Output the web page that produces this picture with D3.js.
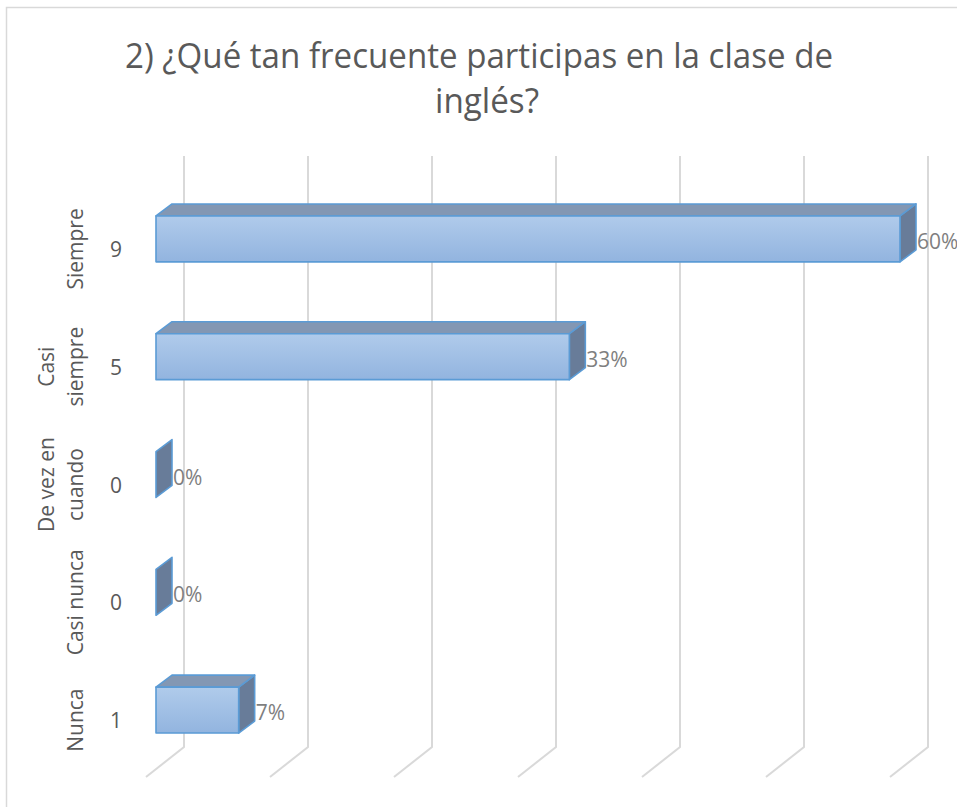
<!DOCTYPE html>
<html>
<head>
<meta charset="utf-8">
<script src="https://cdn.jsdelivr.net/npm/d3@7"></script>
<style>
  html, body { margin: 0; padding: 0; background: #ffffff; }
  svg { display: block; }
</style>
</head>
<body>
<svg id="chart" width="957" height="807"></svg>
<script>
// ---------- data ----------
const titleLines = ["2) ¿Qué tan frecuente participas en la clase de", "inglés?"];
const categories = ["Siempre", "Casi siempre", "De vez en cuando", "Casi nunca", "Nunca"];
const categoryLines = [["Siempre"], ["Casi", "siempre"], ["De vez en", "cuando"], ["Casi nunca"], ["Nunca"]];
const counts = [9, 5, 0, 0, 1];
const percentLabels = ["60%", "33%", "0%", "0%", "7%"];
const valueTicks = [0, 1.5, 3, 4.5, 6, 7.5, 9];

// ---------- layout ----------
const svg = d3.select("#chart");
const W = 957, H = 807;
const font = "'Open Sans', 'Noto Sans', sans-serif";

// chart border
svg.append("rect")
  .attr("x", 6.5).attr("y", 7.5)
  .attr("width", W + 20).attr("height", H + 20)
  .attr("fill", "#ffffff")
  .attr("stroke", "#d9d9d9").attr("stroke-width", 1.5);

// back-wall value scale
const x = d3.scaleLinear().domain([0, 9]).range([184, 928]);
// category scale (front face of bars)
const y = d3.scaleBand().domain(categories).range([180, 769]).paddingInner(0.61).paddingOuter(0.305);

const wallTop = 156, wallBottom = 747;
const floorDX = -38, floorDY = 30;
const barFrontDX = -28;      // front face offset from back wall
const depthDX = 16, depthDY = -12; // bar depth

// ---------- gridlines (wall + floor) ----------
const grid = svg.append("g").attr("fill", "none").attr("stroke", "#d9d9d9").attr("stroke-width", 2);
grid.selectAll("path").data(valueTicks).join("path")
  .attr("d", v => {
    const gx = x(v);
    return `M${gx},${wallTop} L${gx},${wallBottom} L${gx + floorDX},${wallBottom + floorDY}`;
  });

// ---------- gradient ----------
const defs = svg.append("defs");
const grad = defs.append("linearGradient").attr("id", "frontGrad")
  .attr("x1", 0).attr("y1", 0).attr("x2", 0).attr("y2", 1);
grad.append("stop").attr("offset", "0%").attr("stop-color", "#b0cbeb");
grad.append("stop").attr("offset", "100%").attr("stop-color", "#92b4df");

// ---------- bars ----------
const barStroke = "#5b9bd5";
const bars = svg.append("g");
categories.forEach((c, i) => {
  const v = counts[i];
  const top = y(c), bh = y.bandwidth(), bot = top + bh;
  const x0 = x(0) + barFrontDX, x1 = x(v) + barFrontDX;
  const g = bars.append("g").attr("stroke", barStroke).attr("stroke-width", 1.6).attr("stroke-linejoin", "round");
  // side face
  g.append("path")
    .attr("d", `M${x1},${top} L${x1 + depthDX},${top + depthDY} L${x1 + depthDX},${bot + depthDY} L${x1},${bot} Z`)
    .attr("fill", "#687c99");
  if (v > 0) {
    // top face
    g.append("path")
      .attr("d", `M${x0},${top} L${x0 + depthDX},${top + depthDY} L${x1 + depthDX},${top + depthDY} L${x1},${top} Z`)
      .attr("fill", "#8397b3");
    // front face
    g.append("rect")
      .attr("x", x0).attr("y", top)
      .attr("width", x1 - x0).attr("height", bh)
      .attr("fill", "url(#frontGrad)");
  }
  // data label
  svg.append("text")
    .attr("x", x1 + depthDX + 1)
    .attr("y", top + bh / 2 + 10)
    .attr("font-family", font).attr("font-size", 21)
    .attr("fill", "#7f7f7f")
    .text(percentLabels[i]);
});

// ---------- category axis (two levels) ----------
const axisG = svg.append("g").attr("font-family", font).attr("font-size", 21).attr("fill", "#595959");
categories.forEach((c, i) => {
  const cy = y(c) + y.bandwidth() / 2 + 10;
  axisG.append("text")
    .attr("x", 116).attr("y", cy + 8)
    .attr("text-anchor", "middle")
    .text(counts[i]);
  const lines = categoryLines[i];
  const baseXs = lines.length === 1 ? [83] : [54, 83];
  lines.forEach((ln, j) => {
    axisG.append("text")
      .attr("transform", `translate(${baseXs[j]},${cy}) rotate(-90)`)
      .attr("text-anchor", "middle")
      .text(ln);
  });
});

// ---------- title ----------
const titleG = svg.append("g").attr("font-family", font).attr("fill", "#595959").attr("font-size", 35);
titleG.append("text")
  .attr("x", 479).attr("y", 68).attr("text-anchor", "middle")
  .attr("textLength", 708).attr("lengthAdjust", "spacingAndGlyphs")
  .text(titleLines[0]);
titleG.append("text")
  .attr("x", 487).attr("y", 113).attr("text-anchor", "middle")
  .attr("textLength", 104).attr("lengthAdjust", "spacingAndGlyphs")
  .text(titleLines[1]);
</script>
</body>
</html>
